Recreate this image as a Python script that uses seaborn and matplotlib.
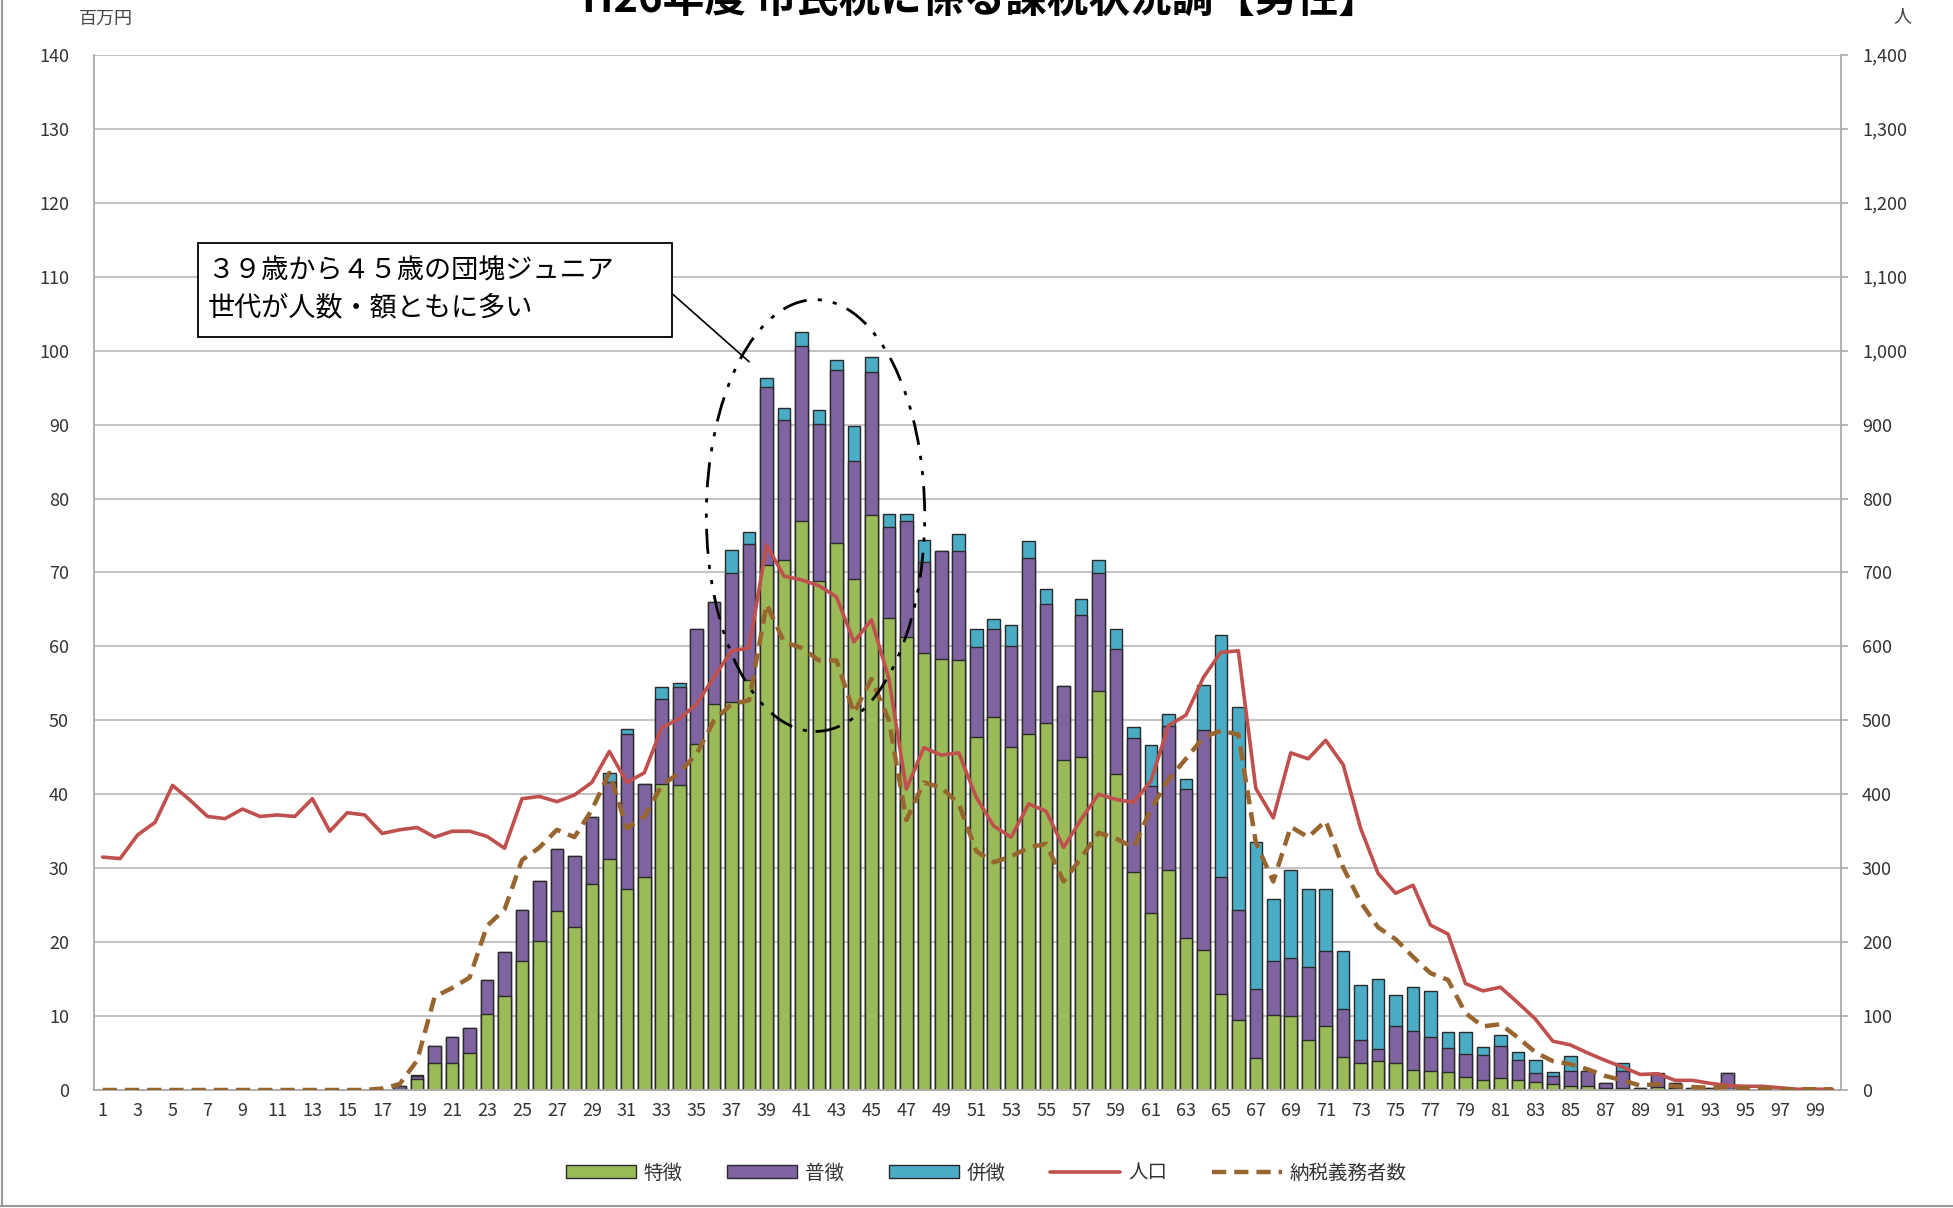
import numpy as np
import pandas as pd
import matplotlib.pyplot as plt
import seaborn as sns
from matplotlib.patches import Patch, Rectangle, Ellipse
from matplotlib.lines import Line2D
from matplotlib.ticker import FuncFormatter

ages = np.arange(1, 101)

# 特徴 (green), 百万円, ages 1..100
tokucho = [0] * 17 + [
    0.1, 1.5, 3.6, 3.6, 5.0, 10.3, 12.7, 17.5, 20.2, 24.2,
    22.1, 27.8, 31.3, 27.2, 28.8, 41.4, 41.3, 46.8, 52.2, 52.5,
    55.5, 71.0, 71.7, 76.9, 68.9, 74.0, 69.1, 77.8, 63.9, 61.3,
    59.1, 58.3, 58.1, 47.7, 50.4, 46.4, 48.2, 49.6, 44.6, 45.0,
    54.0, 42.7, 29.5, 24.0, 29.8, 20.6, 19.0, 13.0, 9.5, 4.3,
    10.1, 10.0, 6.8, 8.7, 4.4, 3.6, 3.9, 3.6, 2.7, 2.6,
    2.4, 1.7, 1.3, 1.6, 1.3, 1.1, 0.8, 0.6, 0.6, 0.2,
    0.3, 0.1, 0.4, 0.2, 0.1, 0.1, 0.1] + [0] * 6

# 普徴 (purple)
fucho = [0] * 17 + [
    0.4, 0.4, 2.3, 3.5, 3.4, 4.6, 5.9, 6.9, 8.0, 8.4,
    9.6, 9.1, 10.4, 21.0, 12.6, 11.5, 13.2, 15.5, 13.8, 17.4,
    18.3, 24.1, 18.9, 23.7, 21.2, 23.4, 16.0, 19.3, 12.2, 15.6,
    12.3, 14.6, 14.8, 12.2, 12.0, 13.7, 23.8, 16.1, 10.1, 19.2,
    15.9, 16.9, 18.1, 17.1, 19.5, 20.1, 29.7, 15.8, 14.8, 9.3,
    7.4, 7.9, 9.8, 10.1, 6.5, 3.2, 1.7, 5.1, 5.3, 4.5,
    3.3, 3.2, 3.4, 4.4, 2.8, 1.2, 1.1, 2.0, 1.9, 0.8,
    2.3, 0.1, 1.7, 0.8, 0.2, 0.2, 2.2] + [0] * 6

# 併徴 (teal)
heicho = [0] * 17 + [
    0, 0.1, 0, 0, 0, 0, 0, 0, 0, 0,
    0, 0, 1.2, 0.6, 0, 1.6, 0.5, 0, 0, 3.1,
    1.7, 1.2, 1.6, 1.9, 1.9, 1.4, 4.7, 2.1, 1.8, 1.0,
    3.0, 0, 2.3, 2.5, 1.3, 2.8, 2.3, 2.1, 0, 2.2,
    1.8, 2.7, 1.5, 5.5, 1.6, 1.4, 6.1, 32.7, 27.5, 20.0,
    8.4, 11.9, 10.6, 8.4, 7.9, 7.4, 9.4, 4.2, 5.9, 6.3,
    2.2, 3.0, 1.1, 1.4, 1.1, 1.8, 0.5, 2.0, 0.1, 0,
    1.0, 0, 0.2, 0, 0, 0, 0] + [0] * 6

# 人口 (persons)
population = [
    315, 313, 345, 362, 412, 392, 370, 367, 380, 370,
    372, 370, 394, 350, 375, 372, 347, 352, 355, 342,
    350, 350, 343, 327, 394, 397, 390, 399, 416, 458,
    416, 429, 490, 502, 522, 559, 594, 598, 737, 695,
    690, 682, 667, 606, 636, 556, 407, 463, 453, 456,
    396, 357, 342, 387, 377, 328, 366, 400, 393, 389,
    418, 493, 507, 558, 592, 594, 408, 368, 456, 448,
    473, 440, 354, 293, 266, 277, 223, 211, 144, 134,
    139, 118, 96, 66, 61, 50, 40, 31, 21, 22,
    13, 13, 9, 6, 5, 5, 3, 1, 1, 1]

# 納税義務者数 (persons)
taxpayers = [
    0, 0, 0, 0, 0, 0, 0, 0, 0, 0,
    0, 0, 0, 0, 0, 0, 2, 8, 40, 126,
    138, 152, 222, 244, 311, 328, 352, 342, 379, 429,
    354, 370, 412, 429, 455, 500, 522, 527, 657, 606,
    598, 581, 581, 510, 556, 500, 365, 416, 409, 387,
    323, 308, 316, 328, 333, 282, 314, 348, 340, 328,
    380, 420, 448, 477, 486, 481, 335, 282, 356, 342,
    364, 301, 254, 220, 204, 180, 158, 149, 104, 86,
    89, 71, 51, 39, 35, 28, 19, 13, 6, 8,
    5, 4, 3, 4, 2, 2, 1, 1, 1, 1]

series_names = ["特徴", "普徴", "併徴", "人口", "納税義務者数"]
title = "H26年度 市民税に係る課税状況調【男性】"
note_text = "３９歳から４５歳の団塊ジュニア\n世代が人数・額ともに多い"

c_green, c_purple, c_teal = "#9BBB59", "#8064A2", "#4BACC6"
c_red, c_brown = "#C0504D", "#98652E"
edge = "#2A2A2A"

sns.set_theme(style="white")
plt.rcParams["font.family"] = ["Noto Sans CJK JP", "DejaVu Sans"]

df = pd.DataFrame({"age": ages, "toku": tokucho, "fu": fucho, "hei": heicho})
df["lvl1"] = df["toku"]
df["lvl2"] = df["toku"] + df["fu"]
df["lvl3"] = df["lvl2"] + df["hei"]
for c in ["lvl1", "lvl2", "lvl3"]:
    df[c] = df[c].where(df[c] > 0)

fig = plt.figure(figsize=(19.53, 12.08), dpi=100)
ax = fig.add_axes([0.0481, 0.0977, 0.8946, 0.8568])

# stacked bars drawn back to front
for col, colr in [("lvl3", c_teal), ("lvl2", c_purple), ("lvl1", c_green)]:
    sub = df.dropna(subset=[col])
    sns.barplot(data=sub, x="age", y=col, native_scale=True, color=colr,
                saturation=1, width=0.72, errorbar=None, edgecolor=edge,
                linewidth=1.0, ax=ax)

ax.set_xlim(0.5, 100.5)
ax.set_ylim(0, 140)
ax.set_yticks(np.arange(0, 141, 10))
ax.set_xticks(ages[::2])
ax.set_xticklabels([str(a) for a in ages[::2]])
ax.set_xlabel("")
ax.set_ylabel("")
ax.yaxis.grid(True, color="#C4C4C4", linewidth=1.5)
ax.set_axisbelow(True)
ax.tick_params(axis="y", length=0, pad=18, labelsize=13, labelcolor="#333333")
ax.tick_params(axis="x", length=0, pad=9, labelsize=13, labelcolor="#333333")
for s in ["top", "right"]:
    ax.spines[s].set_visible(False)
for s in ["left", "bottom"]:
    ax.spines[s].set_color("#AAAAAA")
    ax.spines[s].set_linewidth(1.3)

ax2 = ax.twinx()
sns.lineplot(x=ages, y=population, ax=ax2, color=c_red, linewidth=2.6)
sns.lineplot(x=ages, y=taxpayers, ax=ax2, color=c_brown, linewidth=3.2,
             linestyle=(0, (3.2, 1.8)))
ax2.set_ylim(0, 1400)
ax2.set_yticks(np.arange(0, 1401, 100))
ax2.yaxis.set_major_formatter(FuncFormatter(lambda v, p: f"{int(v):,}"))
ax2.tick_params(axis="y", length=5, width=1.2, color="#AAAAAA", pad=10,
                labelsize=13, labelcolor="#333333")
ax2.set_ylabel("")
ax2.grid(False)
for s in ["top", "left", "bottom"]:
    ax2.spines[s].set_visible(False)
ax2.spines["right"].set_color("#AAAAAA")
ax2.spines["right"].set_linewidth(1.3)
ax.set_xlim(0.5, 100.5)

# annotation: box, connector, dash-dot ellipse (left axis data units)
box = Rectangle((6.45, 101.9), 27.15, 12.7, transform=ax.transData,
                facecolor="white", edgecolor="black", linewidth=1.3, zorder=5)
ax2.add_patch(box)
ax2.text(7.0, 108.3, note_text, transform=ax.transData, fontsize=19.5,
         ha="left", va="center", linespacing=1.45, color="black", zorder=6)
ax2.add_line(Line2D([33.6, 38.0], [107.7, 98.5], transform=ax.transData,
                    color="black", linewidth=1.2, zorder=5))
ell = Ellipse((41.8, 77.7), 12.5, 58.4, transform=ax.transData, fill=False,
              edgecolor="black", linewidth=2.0,
              linestyle=(0, (9, 4, 1.5, 4, 1.5, 4)), zorder=5)
ax2.add_patch(ell)

# legend
handles = [
    Patch(facecolor=c_green, edgecolor=edge, linewidth=1),
    Patch(facecolor=c_purple, edgecolor=edge, linewidth=1),
    Patch(facecolor=c_teal, edgecolor=edge, linewidth=1),
    Line2D([], [], color=c_red, linewidth=2.6),
    Line2D([], [], color=c_brown, linewidth=3.2, linestyle=(0, (3.2, 1.8))),
]
fig.legend(handles, series_names, loc="center", bbox_to_anchor=(0.505, 0.029),
           ncol=5, frameon=False, fontsize=14, handlelength=3.6,
           handleheight=0.6, columnspacing=2.3, handletextpad=0.4,
           labelcolor="#333333")

# title (cropped at the top edge, as in the source)
fig.text(0.502, 1 - 12 / 1208, title, ha="center", va="baseline",
         fontsize=30, fontweight="bold", color="black")
fig.text(106 / 1953, 1 - 19 / 1208, "百万円", ha="center", va="center",
         fontsize=13, color="#444444")
fig.text(1902 / 1953, 1 - 16 / 1208, "人", ha="center", va="center",
         fontsize=13, color="#444444")

# outer frame on left and bottom
fig.add_artist(Line2D([0.001, 0.001], [0.002, 1.0], transform=fig.transFigure,
                      color="#999999", linewidth=1.5))
fig.add_artist(Line2D([0.0, 1.0], [0.002, 0.002], transform=fig.transFigure,
                      color="#999999", linewidth=1.5))

fig.savefig("out.png", dpi=100)
